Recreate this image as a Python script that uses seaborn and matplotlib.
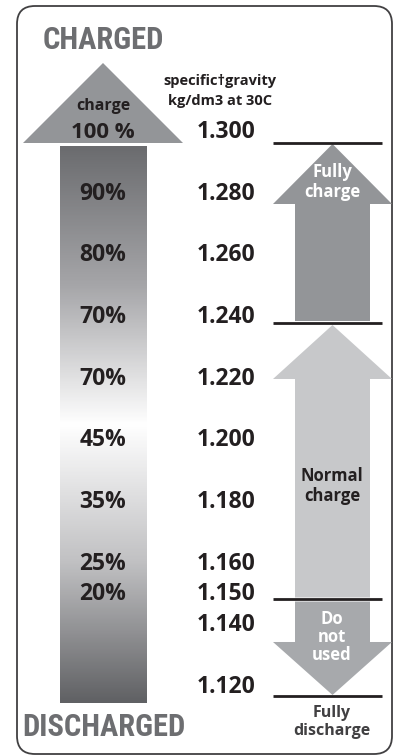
import numpy as np
import matplotlib
matplotlib.use("Agg")
import matplotlib.pyplot as plt
import seaborn as sns
from matplotlib.patches import Polygon, FancyBboxPatch
from matplotlib.colors import LinearSegmentedColormap

# ---------------- data ----------------
gravity_values = [1.300, 1.280, 1.260, 1.240, 1.220, 1.200, 1.180, 1.160, 1.150, 1.140, 1.120]
gravity_labels = ["1.300", "1.280", "1.260", "1.240", "1.220", "1.200",
                  "1.180", "1.160", "1.150", "1.140", "1.120"]
charge_gravity = [1.280, 1.260, 1.240, 1.220, 1.200, 1.180, 1.160, 1.150]
charge_labels = ["90%", "80%", "70%", "70%", "45%", "35%", "25%", "20%"]
top_charge_label = "100 %"
zone_bounds = [1.300, 1.240, 1.150, 1.120]
zone_labels = ["Fully\ncharge", "Normal\ncharge", "Do\nnot\nused"]
zone_dirs = ["up", "up", "down"]

# ---------------- style ----------------
sns.set_theme(style="white")
FONT = ["Open Sans", "DejaVu Sans"]
COND = ["Roboto Condensed", "Roboto", "DejaVu Sans"]
plt.rcParams["font.family"] = FONT

INK = "#231f20"
TITLE_GRAY = "#6d6e71"
DARK_ARROW = "#939598"
LIGHT_ARROW = "#c7c8ca"
MID_ARROW = "#a7a9ac"

PX = 3083.3                       # pixels per gravity unit
G_TOP = 1.300 + 132 / PX          # gravity at the top edge of the figure


def px2g(py):
    return G_TOP - py / PX


fig = plt.figure(figsize=(4, 7.56), dpi=100)

# background axes in pixel coordinates
bg = fig.add_axes([0, 0, 1, 1])
bg.set_xlim(0, 400)
bg.set_ylim(756, 0)
bg.axis("off")
bg.add_patch(FancyBboxPatch((17, 6), 375, 748,
                            boxstyle="round,pad=0,rounding_size=18",
                            facecolor="white", edgecolor="#414042", lw=1.3))
bg.text(103, 40, "CHARGED", ha="center", va="center", fontsize=22,
        fontweight="bold", color=TITLE_GRAY, family=COND)
bg.text(104, 727, "DISCHARGED", ha="center", va="center", fontsize=22,
        fontweight="bold", color=TITLE_GRAY, family=COND)

# data axes: x in pixels, y in specific gravity
ax = fig.add_axes([0, 0, 1, 1])
ax.patch.set_alpha(0)
ax.axis("off")

# gradient column
cmap = LinearSegmentedColormap.from_list(
    "soc", [(0.0, "#6b6c6f"), (0.25, "#a6a6a9"), (0.5, "#ffffff"),
            (0.75, "#c0c0c2"), (1.0, "#606164")])
grad = np.linspace(0, 1, 400)[:, None]
ax.imshow(grad, extent=[60, 147, px2g(703), px2g(146)], aspect="auto",
          cmap=cmap, origin="upper", interpolation="bicubic")

# top triangle
ax.add_patch(Polygon([(23, px2g(143)), (183, px2g(143)), (103, px2g(63))],
                     closed=True, facecolor=DARK_ARROW, edgecolor="none"))
ax.text(103, px2g(106), "charge", ha="center", va="center", fontsize=11.5,
        fontweight="bold", color=INK)
ax.text(103, gravity_values[0], top_charge_label, ha="center", va="center",
        fontsize=16, fontweight="bold", color=INK)

# header of the gravity column
ax.text(220, px2g(81), "specific\u2020gravity", ha="center", va="center",
        fontsize=10.5, fontweight="bold", color=INK)
ax.text(220, px2g(101), "kg/dm3 at 30C", ha="center", va="center",
        fontsize=10.5, fontweight="bold", color=INK)

# labels
for g, lab in zip(charge_gravity, charge_labels):
    ax.text(103, g, lab, ha="center", va="center", fontsize=16.5,
            fontweight="bold", color=INK)
for g, lab in zip(gravity_values, gravity_labels):
    ax.text(226, g, lab, ha="center", va="center", fontsize=16.5,
            fontweight="bold", color=INK)

# threshold lines (slightly below the value text)
line_offsets_px = [11, 6, 5, 9]
line_y = [b - o / PX for b, o in zip(zone_bounds, line_offsets_px)]
ax.hlines(line_y, 273, 382, colors=INK, lw=2)


def arrow(top_px, bot_px, head_px, direction, color):
    x0, x1, s0, s1 = 273, 392, 295, 370
    xm = (x0 + x1) / 2
    if direction == "up":
        pts = [(xm, top_px), (x1, top_px + head_px), (s1, top_px + head_px),
               (s1, bot_px), (s0, bot_px), (s0, top_px + head_px),
               (x0, top_px + head_px)]
    else:
        pts = [(xm, bot_px), (x1, bot_px - head_px), (s1, bot_px - head_px),
               (s1, top_px), (s0, top_px), (s0, bot_px - head_px),
               (x0, bot_px - head_px)]
    ax.add_patch(Polygon([(x, px2g(y)) for x, y in pts], closed=True,
                         facecolor=color, edgecolor="none"))


line_px = [(G_TOP - y) * PX for y in line_y]
arrow(line_px[0] + 1, line_px[1] - 2, 60, zone_dirs[0], DARK_ARROW)
arrow(line_px[1] + 2, line_px[2] - 2, 54, zone_dirs[1], LIGHT_ARROW)
arrow(line_px[2] + 2, line_px[3] - 1, 53, zone_dirs[2], MID_ARROW)

ax.text(332, px2g(182), zone_labels[0], ha="center", va="center",
        fontsize=12, fontweight="bold", color="white", linespacing=1.15)
ax.text(332, px2g(486), zone_labels[1], ha="center", va="center",
        fontsize=12, fontweight="bold", color=INK, linespacing=1.1)
ax.text(332, px2g(637), zone_labels[2], ha="center", va="center",
        fontsize=12, fontweight="bold", color="white", linespacing=1.0)
ax.text(332, px2g(722), "Fully\ndischarge", ha="center", va="center",
        fontsize=11.5, fontweight="bold", color="#414042", linespacing=1.15)

ax.set_xlim(0, 400)
ax.set_ylim(px2g(756), px2g(0))
sns.despine(ax=ax, left=True, bottom=True)

fig.savefig("out.png", dpi=100)
